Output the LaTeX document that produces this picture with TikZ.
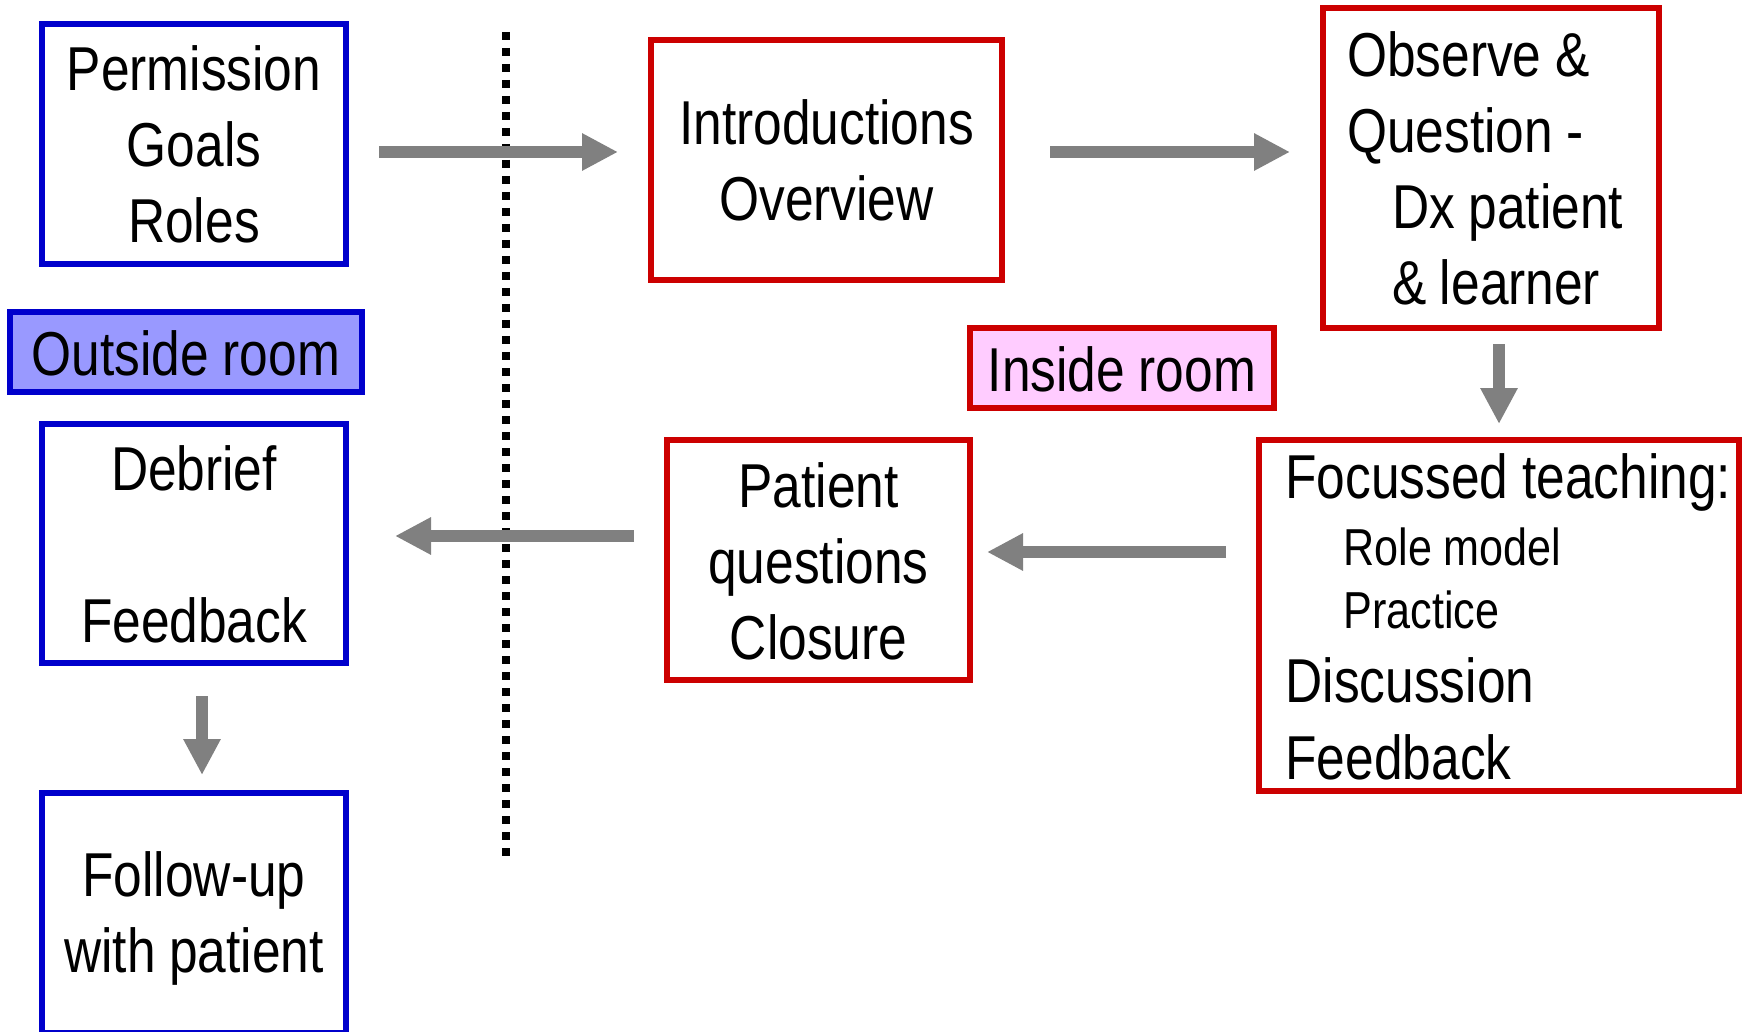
\documentclass[tikz,border=0pt]{standalone}
\usepackage{fontspec}
\setmainfont{Liberation Sans}[FakeStretch=0.83]
\usetikzlibrary{arrows.meta}
\definecolor{bbord}{HTML}{0000CC}
\definecolor{rbord}{HTML}{CC0000}
\definecolor{outfill}{HTML}{9999FF}
\definecolor{infill}{HTML}{FFCCFF}
\definecolor{arrgray}{HTML}{808080}
\newcommand\ls{\rule[-10pt]{0pt}{66pt}}
\newcommand\fixsp{\spaceskip=0.22em plus 0.05em minus 0.05em\relax}
\newcommand\bigtxt{\fontsize{62pt}{76pt}\selectfont\fixsp}
\newcommand\smalltxt{\fontsize{52pt}{63pt}\selectfont\fixsp}
\tikzset{
  box/.style={draw, line width=6pt, inner sep=0pt, font=\bigtxt, align=center},
  bluebox/.style={box, draw=bbord},
  redbox/.style={box, draw=rbord},
  flow/.style={draw=arrgray, line width=12pt, -{Triangle[length=36pt,width=35pt]}},
  sep/.style={line width=8pt, dash pattern=on 8pt off 8pt}
}
\begin{document}
\begin{tikzpicture}[x=1pt,y=-1pt]
\useasboundingbox (0,0) rectangle (1751,1032);
\clip (0,0) rectangle (1751,1032);
\fill[white] (0,0) rectangle (1751,1032);

% outside-room boxes
\node[bluebox, minimum width=304pt, minimum height=240pt] (perm) at (194,144)
  {\ls Permission\\\ls Goals\\\ls Roles};
\node[bluebox, fill=outfill, minimum width=352pt, minimum height=80pt] (outside) at (186,352)
  {\ls Outside room};
\node[bluebox, minimum width=304pt, minimum height=239pt] (debrief) at (194,543.5)
  {\ls Debrief\\\ls\\\ls Feedback};
\node[bluebox, minimum width=304pt, minimum height=240pt] (follow) at (194,913)
  {\ls Follow-up\\\ls with patient};

% inside-room boxes
\node[redbox, minimum width=351pt, minimum height=240pt] (intro) at (826.5,160)
  {\ls Introductions\\\ls Overview};
\node[redbox, minimum width=336pt, minimum height=320pt, text width=288pt,
      inner xsep=24pt, align=left] (observe) at (1491,168)
  {\noindent\fixsp\ls Observe \&\\
   \ls Question -\\
   \hspace*{45pt}\ls Dx patient\\
   \hspace*{45pt}\ls \& learner};
\node[redbox, fill=infill, minimum width=304pt, minimum height=80pt] (inside) at (1122,368)
  {\ls Inside room};
\node[redbox, minimum width=303pt, minimum height=240pt] (patient) at (818.5,560)
  {\ls Patient\\\ls questions\\\ls Closure};
\node[redbox, minimum width=480pt, minimum height=351pt, text width=427pt,
      inner xsep=26.5pt, align=left] (focus) at (1499,615.5)
  {\noindent\fixsp\ls\mbox{Focussed teaching:}\\[-9pt]
   \hspace*{58pt}{\smalltxt Role model}\\[-13pt]
   \hspace*{58pt}{\smalltxt Practice}\\[-2pt]
   \ls Discussion\\[1pt]
   \ls Feedback};

% separator
\draw[sep] (506,32) -- (506,856);

% connectors
\draw[flow] ([xshift=30pt,yshift=-8pt]perm.east) -- ([xshift=-30pt,yshift=8pt]intro.west);
\draw[flow] ([xshift=45pt,yshift=8pt]intro.east) -- ([xshift=-30pt,yshift=16pt]observe.west);
\draw[flow] ([xshift=8pt,yshift=-13pt]observe.south) -- ([yshift=13pt]focus.north);
\draw[flow] ([xshift=-30pt,yshift=63.5pt]focus.west) -- ([xshift=14pt,yshift=8pt]patient.east);
\draw[flow] ([xshift=-30pt,yshift=24pt]patient.west) -- ([xshift=46pt,yshift=7.5pt]debrief.east);
\draw[flow] ([xshift=8pt,yshift=-30pt]debrief.south) -- ([xshift=8pt,yshift=15pt]follow.north);
\end{tikzpicture}
\end{document}
